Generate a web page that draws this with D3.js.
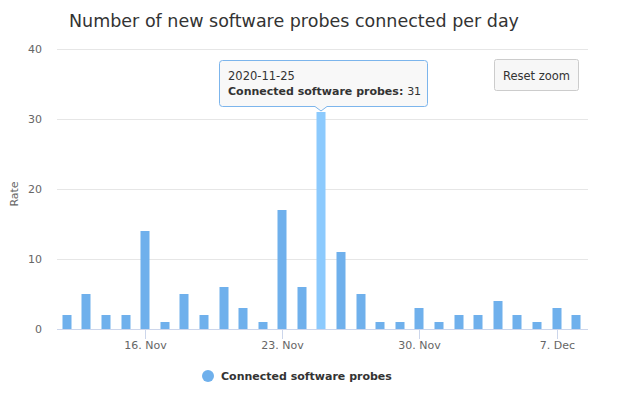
<!DOCTYPE html>
<html>
<head>
<meta charset="utf-8">
<script src="https://cdn.jsdelivr.net/npm/d3@7"></script>
<style>
  html, body { margin: 0; padding: 0; background: #fff; }
  svg { display: block; font-family: "DejaVu Sans", "Lucida Grande", sans-serif; }
</style>
</head>
<body>
<svg id="chart" width="619" height="396"></svg>
<script>
const days = [
  "2020-11-12", "2020-11-13", "2020-11-14", "2020-11-15", "2020-11-16", "2020-11-17",
  "2020-11-18", "2020-11-19", "2020-11-20", "2020-11-21", "2020-11-22", "2020-11-23",
  "2020-11-24", "2020-11-25", "2020-11-26", "2020-11-27", "2020-11-28", "2020-11-29",
  "2020-11-30", "2020-12-01", "2020-12-02", "2020-12-03", "2020-12-04", "2020-12-05",
  "2020-12-06", "2020-12-07", "2020-12-08"
];
const probes = [2, 5, 2, 2, 14, 1, 5, 2, 6, 3, 1, 17, 6, 31, 11, 5, 1, 1, 3, 1, 2, 2, 4, 2, 1, 3, 2];
const yTicks = [0, 10, 20, 30, 40];
const xTicks = ["2020-11-16", "2020-11-23", "2020-11-30", "2020-12-07"];
const hovered = "2020-11-25";

const parse = d3.utcParse("%Y-%m-%d");
const rows = days.map((d, i) => ({day: d, date: parse(d), value: probes[i]}));

const svg = d3.select("#chart");
const plotL = 57, plotR = 588, plotT = 49, plotB = 329;
const hour = 3600 * 1000;

const x = d3.scaleUtc()
  .domain([new Date(+parse(days[0]) - 12 * hour), new Date(+parse(days[days.length - 1]) + 14.5 * hour)])
  .range([plotL, plotR]);
const y = d3.scaleLinear().domain([0, 40]).range([plotB, plotT]);

// title
svg.append("text")
  .attr("x", 294).attr("y", 27)
  .attr("text-anchor", "middle")
  .attr("fill", "#333")
  .attr("font-size", 17.5)
  .text("Number of new software probes connected per day");

// grid
svg.append("g")
  .selectAll("line")
  .data(yTicks.filter((t) => t > 0))
  .join("line")
  .attr("x1", plotL).attr("x2", plotR)
  .attr("y1", (d) => Math.round(y(d)) + 0.5).attr("y2", (d) => Math.round(y(d)) + 0.5)
  .attr("stroke", "#e6e6e6");

// y labels
svg.append("g")
  .selectAll("text")
  .data(yTicks)
  .join("text")
  .attr("x", 42).attr("y", (d) => y(d) + 4)
  .attr("text-anchor", "end")
  .attr("fill", "#666")
  .attr("font-size", 11)
  .text((d) => d);

svg.append("text")
  .attr("transform", `translate(18,${(plotT + plotB) / 2 + 5}) rotate(-90)`)
  .attr("text-anchor", "middle")
  .attr("fill", "#666")
  .attr("font-size", 11)
  .text("Rate");

// bars
svg.append("g")
  .selectAll("rect")
  .data(rows)
  .join("rect")
  .attr("x", (d) => Math.round(x(d.date)) - 4.5)
  .attr("width", 9)
  .attr("y", (d) => y(d.value))
  .attr("height", (d) => plotB - y(d.value))
  .attr("fill", (d) => (d.day === hovered ? "#8ccafd" : "#6fb0ec"));

// x axis
const xAxis = svg.append("g");
xAxis.append("line")
  .attr("x1", plotL).attr("x2", plotR)
  .attr("y1", plotB + 0.5).attr("y2", plotB + 0.5)
  .attr("stroke", "#ccd6eb");
const fmt = d3.utcFormat("%-d. %b");
const xt = xAxis.selectAll("g.tick")
  .data(xTicks.map(parse))
  .join("g")
  .attr("class", "tick")
  .attr("transform", (d) => `translate(${Math.round(x(d)) + 0.5},0)`);
xt.append("line")
  .attr("y1", plotB).attr("y2", plotB + 10)
  .attr("stroke", "#ccd6eb");
xt.append("text")
  .attr("y", plotB + 20)
  .attr("text-anchor", "middle")
  .attr("fill", "#666")
  .attr("font-size", 11)
  .text(fmt);

// reset zoom button
const btn = svg.append("g").attr("transform", "translate(494.5,59.5)");
btn.append("rect")
  .attr("width", 84).attr("height", 31).attr("rx", 2)
  .attr("fill", "#f7f7f7").attr("stroke", "#cccccc");
btn.append("text")
  .attr("x", 42).attr("y", 20)
  .attr("text-anchor", "middle")
  .attr("fill", "#333")
  .attr("font-size", 11.5)
  .text("Reset zoom");

// tooltip
const hv = rows.find((d) => d.day === hovered);
const tipX = Math.round(x(hv.date));
const tipY = y(hv.value) - 1;
const bx0 = 219.5, bx1 = 427.5, by0 = 60.5, by1 = 106.5;
const tip = svg.append("g");
tip.append("path")
  .attr("d", `M${bx0 + 3},${by0} H${bx1 - 3} Q${bx1},${by0} ${bx1},${by0 + 3} V${by1 - 3} Q${bx1},${by1} ${bx1 - 3},${by1}
    H${tipX + 6} L${tipX},${tipY} L${tipX - 6},${by1} H${bx0 + 3} Q${bx0},${by1} ${bx0},${by1 - 3} V${by0 + 3} Q${bx0},${by0} ${bx0 + 3},${by0} Z`)
  .attr("fill", "rgba(247,247,247,0.9)")
  .attr("stroke", "#7cb5ec")
  .attr("stroke-width", 1);
tip.append("text")
  .attr("x", 228).attr("y", 80)
  .attr("fill", "#333")
  .attr("font-size", 11.5)
  .text(hv.day);
const line2 = tip.append("text")
  .attr("x", 228).attr("y", 95)
  .attr("fill", "#333")
  .attr("font-size", 11);
line2.append("tspan").attr("font-weight", "bold").text("Connected software probes: ");
line2.append("tspan").text(hv.value);

// legend
svg.append("circle")
  .attr("cx", 208).attr("cy", 376).attr("r", 6)
  .attr("fill", "#6fb0ec");
svg.append("text")
  .attr("x", 221).attr("y", 380)
  .attr("fill", "#333")
  .attr("font-size", 11)
  .attr("font-weight", "bold")
  .text("Connected software probes");
</script>
</body>
</html>
